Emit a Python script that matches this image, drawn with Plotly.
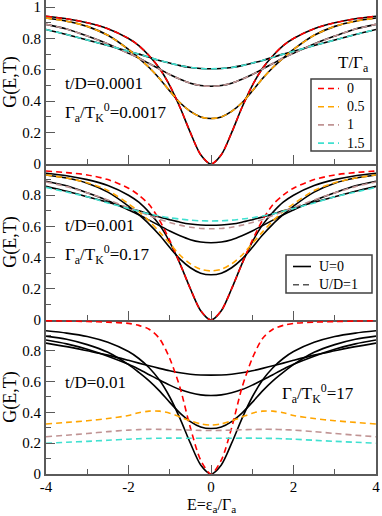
import plotly.graph_objects as go
from plotly.subplots import make_subplots

# level position E = eps_a / Gamma_a
energy = [-4, -3.5, -3, -2.5, -2, -1.75, -1.5, -1.25, -1, -0.75, -0.5, -0.25, 0,
          0.25, 0.5, 0.75, 1, 1.25, 1.5, 1.75, 2, 2.5, 3, 3.5, 4]

temps = ["0", "0.5", "1", "1.5"]

# U=0, t/D=0.0001 and 0.001 (also U/D=1 for t/D=0.0001, the curves coincide)
g_u0_t0 = [.941, .925, .90, .862, .80, .755, .69, .61, .50, .36, .20, .059, 0,
           .059, .20, .36, .50, .61, .69, .755, .80, .862, .90, .925, .941]
g_u0_t05 = [.93, .91, .877, .82, .73, .675, .615, .545, .465, .39, .335, .30, .29,
            .30, .335, .39, .465, .545, .615, .675, .73, .82, .877, .91, .93]
g_u0_t1 = [.89, .86, .815, .765, .705, .675, .64, .605, .57, .54, .515, .50, .495,
           .50, .515, .54, .57, .605, .64, .675, .705, .765, .815, .86, .89]
g_u0_t15 = [.857, .825, .79, .755, .718, .70, .68, .66, .643, .627, .615, .609, .607,
            .609, .615, .627, .643, .66, .68, .70, .718, .755, .79, .825, .857]

# U/D=1, t/D=0.001
g_mid_t0 = [.955, .945, .93, .90, .845, .80, .74, .64, .51, .36, .20, .06, 0,
            .06, .20, .36, .51, .64, .74, .80, .845, .90, .93, .945, .955]
g_mid_t05 = [.93, .91, .88, .83, .745, .695, .635, .565, .49, .415, .36, .325, .315,
             .325, .36, .415, .49, .565, .635, .695, .745, .83, .88, .91, .93]
g_mid_t1 = [.885, .855, .815, .77, .72, .695, .67, .645, .625, .608, .595, .587, .585,
            .587, .595, .608, .625, .645, .67, .695, .72, .77, .815, .855, .885]
g_mid_t15 = [.85, .82, .79, .75, .715, .697, .68, .667, .655, .647, .64, .636, .635,
             .636, .64, .647, .655, .667, .68, .697, .715, .75, .79, .82, .85]

# U=0, t/D=0.01
g_low_u0_t0 = [.93, .915, .893, .855, .795, .75, .69, .61, .50, .36, .20, .059, 0,
               .059, .20, .36, .50, .61, .69, .75, .795, .855, .893, .915, .93]
g_low_u0_t05 = [.895, .875, .84, .79, .71, .66, .605, .54, .465, .395, .34, .305, .295,
                .305, .34, .395, .465, .54, .605, .66, .71, .79, .84, .875, .895]
g_low_u0_t1 = [.87, .845, .81, .765, .712, .68, .645, .61, .577, .548, .527, .514, .51,
               .514, .527, .548, .577, .61, .645, .68, .712, .765, .81, .845, .87]
g_low_u0_t15 = [.85, .827, .80, .772, .738, .72, .703, .686, .67, .657, .648, .643, .642,
                .643, .648, .657, .67, .686, .703, .72, .738, .772, .80, .827, .85]

# U/D=1, t/D=0.01
g_low_t0 = [.995, .993, .99, .986, .978, .965, .94, .88, .75, .56, .30, .09, 0,
            .09, .30, .56, .75, .88, .94, .965, .978, .986, .99, .993, .995]
g_low_t05 = [.325, .335, .346, .36, .38, .398, .408, .408, .395, .37, .345, .325, .318,
             .325, .345, .37, .395, .408, .408, .398, .38, .36, .346, .335, .325]
g_low_t1 = [.242, .252, .263, .275, .285, .288, .29, .29, .289, .287, .285, .283, .282,
            .283, .285, .287, .289, .29, .29, .288, .285, .275, .263, .252, .242]
g_low_t15 = [.20, .206, .212, .219, .226, .229, .231, .232, .233, .233, .232, .232, .232,
             .232, .232, .233, .233, .232, .231, .229, .226, .219, .212, .206, .20]

xticks = [-4, -2, 0, 2, 4]
xtick_text = ["-4", "-2", "0", "2", "4"]
model_names = ["U=0", "U/D=1"]

colors = ["#ff0000", "#ffa500", "#c09494", "#40e0d0"]
FONT = "Liberation Serif"
AXC = "#5a5a5a"
DASH = "6px,4px"

# plot area in page pixels: left 46, right 376, top 0, bottom 474
def px_x(x):
    return (x - 46) / 330.0

def px_y(y):
    return (474 - y) / 474.0


panels = [
    ([g_u0_t0, g_u0_t05, g_u0_t1, g_u0_t15], [g_u0_t0, g_u0_t05, g_u0_t1, g_u0_t15]),
    ([g_u0_t0, g_u0_t05, g_u0_t1, g_u0_t15], [g_mid_t0, g_mid_t05, g_mid_t1, g_mid_t15]),
    ([g_low_u0_t0, g_low_u0_t05, g_low_u0_t1, g_low_u0_t15], [g_low_t0, g_low_t05, g_low_t1, g_low_t15]),
]

fig = make_subplots(rows=3, cols=1, shared_xaxes=True, vertical_spacing=0)

for r, (solid, dashed) in enumerate(panels, start=1):
    for i, g in enumerate(solid):
        fig.add_trace(go.Scatter(x=energy, y=g, mode="lines", name=model_names[0] + " T=" + temps[i],
                                 line=dict(color="black", width=1.6, shape="spline", smoothing=0.8),
                                 showlegend=False, hoverinfo="skip"), row=r, col=1)
    for i, g in enumerate(dashed):
        fig.add_trace(go.Scatter(x=energy, y=g, mode="lines", name=model_names[1] + " T=" + temps[i],
                                 line=dict(color=colors[i], width=1.6, dash=DASH,
                                           shape="spline", smoothing=0.8),
                                 showlegend=False, hoverinfo="skip"), row=r, col=1)

# panel geometry (touching panels, top one cut by the page edge)
doms = [[0.654, 1.0], [0.3249, 0.654], [0.0, 0.3249]]
for r in range(1, 4):
    fig.update_yaxes(domain=doms[r - 1], row=r, col=1,
                     range=[0, 1.045] if r == 1 else [0, 1],
                     tickvals=[0, 0.2, 0.4, 0.6, 0.8, 1] if r == 1 else [0, 0.2, 0.4, 0.6, 0.8],
                     ticktext=["0", "0.2", "0.4", "0.6", "0.8", "1"] if r == 1 else ["0", "0.2", "0.4", "0.6", "0.8"],
                     ticks="inside", ticklen=9, tickwidth=1, tickcolor=AXC,
                     minor=dict(dtick=0.1, ticks="inside", ticklen=5, tickcolor=AXC, tickwidth=1, showgrid=False),
                     showline=True, linecolor=AXC, linewidth=2, mirror=True,
                     showgrid=False, zeroline=False, automargin=False, ticklabeloverflow="allow",
                     title=dict(text="G(E,T)", standoff=4, font=dict(size=18, family=FONT, color="black")),
                     tickfont=dict(size=15, family=FONT, color="black"))
    fig.update_xaxes(row=r, col=1, range=[-4, 4], tickvals=xticks, ticktext=xtick_text,
                     ticks="inside", ticklen=9, tickwidth=1, tickcolor=AXC,
                     minor=dict(dtick=1, ticks="inside", ticklen=5, tickcolor=AXC, tickwidth=1, showgrid=False),
                     showline=True, linecolor=AXC, linewidth=2, mirror=False,
                     showgrid=False, zeroline=False, showticklabels=(r == 3), automargin=False,
                     ticklabelstandoff=-2,
                     tickfont=dict(size=15, family=FONT, color="black"))

ann_font = dict(size=17, family=FONT, color="black")

# x axis title, set just under the tick labels as in the original
fig.add_annotation(x=px_x(211), y=px_y(516), xref="paper", yref="paper",
                   text="E=ε<sub>a</sub>/Γ<sub>a</sub>", showarrow=False,
                   xanchor="center", yanchor="bottom", borderpad=0,
                   font=dict(size=16, family=FONT, color="black"))

notes = [
    (63, 84, "t/D=0.0001"),
    (63, 113, "Γ<sub>a</sub>/T<sub>K</sub><sup>0</sup>=0.0017"),
    (63, 226, "t/D=0.001"),
    (63, 254, "Γ<sub>a</sub>/T<sub>K</sub><sup>0</sup>=0.17"),
    (63, 382, "t/D=0.01"),
    (280, 393, "Γ<sub>a</sub>/T<sub>K</sub><sup>0</sup>=17"),
    (336, 64, "T/Γ<sub>a</sub>"),
]
for x, y, t in notes:
    fig.add_annotation(x=px_x(x), y=px_y(y), xref="paper", yref="paper", text=t, showarrow=False,
                       xanchor="left", yanchor="middle", font=ann_font)

# legend boxes, drawn like the original (short samples, tight rows)
LEG_SIZE = 14
ROW = LEG_SIZE * 1.3

def legend_box(x0, y0, x1, y1, first_row, styles, labels, line_x0, line_x1, text_x):
    fig.add_shape(type="rect", xref="paper", yref="paper",
                  x0=px_x(x0), x1=px_x(x1), y0=px_y(y0), y1=px_y(y1),
                  line=dict(color="#404040", width=1.5), fillcolor="white", layer="above")
    for k, (col, dash) in enumerate(styles):
        y = first_row + ROW * k
        fig.add_shape(type="line", xref="paper", yref="paper",
                      x0=px_x(line_x0), x1=px_x(line_x1), y0=px_y(y), y1=px_y(y),
                      line=dict(color=col, width=1.6, dash=dash), layer="above")
    mid = first_row + ROW * (len(labels) - 1) / 2.0
    fig.add_annotation(x=px_x(text_x), y=px_y(mid), xref="paper", yref="paper",
                       text="<br>".join(labels), align="left", showarrow=False,
                       xanchor="left", yanchor="middle",
                       font=dict(size=LEG_SIZE, family=FONT, color="black"))

legend_box(311, 79, 371, 151, 88.5, [(c, DASH) for c in colors], temps, 318, 339, 345)
legend_box(286, 255, 372, 293, 266.5, [("black", "solid"), ("#555555", DASH)], model_names, 293, 311, 317)

fig.update_layout(
    width=382, height=516,
    margin=dict(l=46, r=6, t=0, b=42),
    paper_bgcolor="white", plot_bgcolor="white",
    font=dict(family=FONT, color="black"),
    showlegend=False,
)

# the page body has a default 8px margin; drop it so the figure sits at the corner
fig.write_html("out.html", config={"displayModeBar": False},
               post_script="document.body.style.margin='0px';")
